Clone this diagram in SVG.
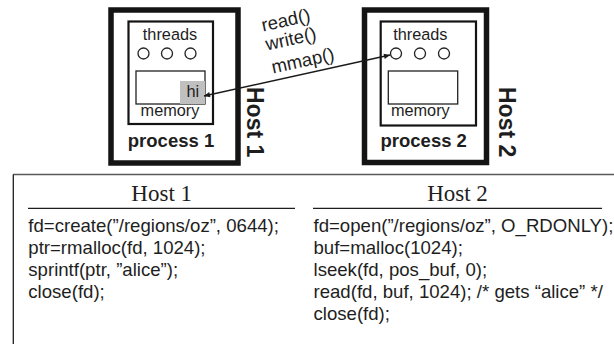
<svg xmlns="http://www.w3.org/2000/svg" width="614" height="344" viewBox="0 0 614 344">
<style>
  .host { fill: #fff; stroke: #141414; stroke-width: 5.5; }
  .proc { fill: #fff; stroke: #141414; stroke-width: 2.2; }
  .mem { fill: #fff; stroke: #222; stroke-width: 1.3; }
  .thr { fill: #fff; stroke: #222; stroke-width: 1.3; }
  .sans { font-family: "Liberation Sans", Arial, sans-serif; fill: #1e1e1e; }
  .small { font-size: 16.3px; }
  .bold { font-weight: bold; }
  .pname { font-size: 18.5px; }
  .hname { font-size: 23px; }
  .serif { font-family: "Liberation Serif", "Times New Roman", serif; fill: #1e1e1e; font-size: 23px; }
  .code { font-family: "Liberation Sans", Arial, sans-serif; fill: #1e1e1e; font-size: 18.6px; }
  .call { font-family: "Liberation Sans", Arial, sans-serif; fill: #1e1e1e; font-size: 18.5px; }
  .conn { fill: none; stroke: #1a1a1a; stroke-width: 1.3; }
  .rule { stroke: #1e1e1e; stroke-width: 1.3; }
</style>
<defs>
  <marker id="ah" viewBox="0 0 10 10" refX="10" refY="5" markerWidth="7.5" markerHeight="6" markerUnits="userSpaceOnUse" orient="auto-start-reverse">
    <path d="M0,0.5 L10,5 L0,9.5 z" fill="#1a1a1a"/>
  </marker>
</defs>

<g id="host1">
  <rect class="host" x="111" y="10" width="127" height="153"/>
  <text class="sans bold hname" transform="translate(247 87) rotate(90)">Host 1</text>
  <g id="process1">
    <rect class="proc" x="128.5" y="21.5" width="84.5" height="102.5"/>
    <text class="sans small" x="170" y="39.5" text-anchor="middle">threads</text>
    <circle class="thr" cx="143.5" cy="53.5" r="5.5"/>
    <circle class="thr" cx="167" cy="53.5" r="5.5"/>
    <circle class="thr" cx="190.5" cy="53.5" r="5.5"/>
    <rect class="mem" x="136" y="71" width="69" height="33"/>
    <rect x="180" y="81" width="25" height="23" fill="#c0c0c0"/>
    <text class="sans small" x="186.5" y="97">hi</text>
    <text class="sans small" x="170" y="115.5" text-anchor="middle">memory</text>
    <text class="sans bold pname" x="171" y="146.7" text-anchor="middle">process 1</text>
  </g>
</g>

<g id="host2">
  <rect class="host" x="364.5" y="10" width="122" height="152.5"/>
  <text class="sans bold hname" transform="translate(499 87) rotate(90)">Host 2</text>
  <g id="process2">
    <rect class="proc" x="380.7" y="21.5" width="95.3" height="104"/>
    <text class="sans small" x="420.3" y="39.5" text-anchor="middle">threads</text>
    <circle class="thr" cx="396" cy="53.5" r="5.5"/>
    <circle class="thr" cx="420" cy="53.5" r="5.5"/>
    <circle class="thr" cx="444" cy="53.5" r="5.5"/>
    <rect class="mem" x="388.3" y="71" width="69.4" height="33"/>
    <text class="sans small" x="420.3" y="115.5" text-anchor="middle">memory</text>
    <text class="sans bold pname" x="423.7" y="146.7" text-anchor="middle">process 2</text>
  </g>
</g>

<g id="connectors">
  <line class="conn" x1="204" y1="96" x2="390" y2="55" marker-start="url(#ah)" marker-end="url(#ah)"/>
  <text class="call" transform="translate(263 31.5) rotate(-12.4)">read()</text>
  <text class="call" transform="translate(267 50.5) rotate(-12.4)">write()</text>
  <text class="call" transform="translate(273 73.5) rotate(-12.4)">mmap()</text>
</g>

<g id="table">
  <line x1="13" y1="174.5" x2="614" y2="174.5" stroke="#5a5a5a" stroke-width="1.5"/>
  <line x1="13.3" y1="174.5" x2="13.3" y2="344" stroke="#1e1e1e" stroke-width="1.3"/>
  <text class="serif" x="161.7" y="200.5" text-anchor="middle">Host 1</text>
  <line class="rule" x1="28" y1="208.3" x2="295" y2="208.3"/>
  <text class="code" x="28.3" y="231.5">fd=create(”/regions/oz”, 0644);</text>
  <text class="code" x="28.3" y="253.8">ptr=rmalloc(fd, 1024);</text>
  <text class="code" x="28.3" y="276">sprintf(ptr, ”alice”);</text>
  <text class="code" x="28.3" y="298.2">close(fd);</text>

  <text class="serif" x="457.5" y="200.5" text-anchor="middle">Host 2</text>
  <line class="rule" x1="313" y1="208.3" x2="602" y2="208.3"/>
  <text class="code" x="313.5" y="231.5">fd=open(”/regions/oz”, O_RDONLY);</text>
  <text class="code" x="313.5" y="253.8">buf=malloc(1024);</text>
  <text class="code" x="313.5" y="276">lseek(fd, pos_buf, 0);</text>
  <text class="code" x="313.5" y="298.2">read(fd, buf, 1024); /* gets “alice” */</text>
  <text class="code" x="313.5" y="320.4">close(fd);</text>
</g>
</svg>
